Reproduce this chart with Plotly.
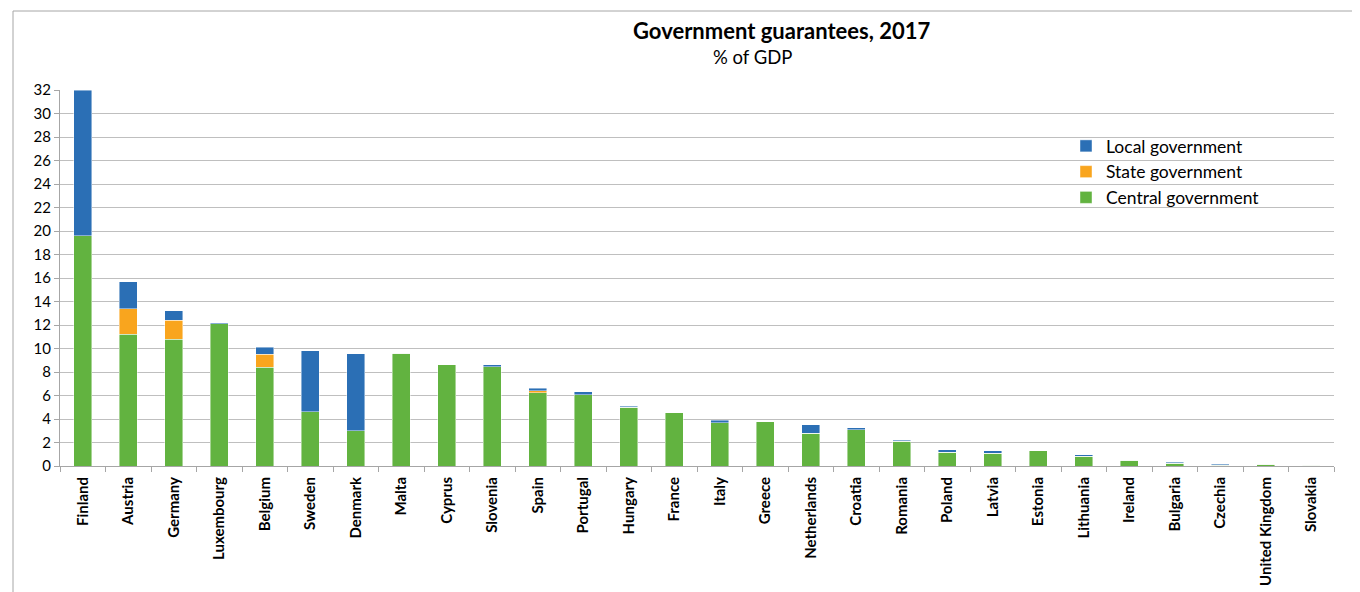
import plotly.graph_objects as go

countries = ["Finland", "Austria", "Germany", "Luxembourg", "Belgium", "Sweden", "Denmark",
             "Malta", "Cyprus", "Slovenia", "Spain", "Portugal", "Hungary", "France", "Italy",
             "Greece", "Netherlands", "Croatia", "Romania", "Poland", "Latvia", "Estonia",
             "Lithuania", "Ireland", "Bulgaria", "Czechia", "United Kingdom", "Slovakia"]

central = [19.6, 11.2, 10.8, 12.1, 8.4, 4.6, 3.0,
           9.6, 8.6, 8.45, 6.25, 6.05, 5.0, 4.55, 3.7,
           3.75, 2.8, 3.1, 2.1, 1.15, 1.1, 1.3,
           0.85, 0.47, 0.25, 0.07, 0.15, 0.05]
state = [0.0, 2.2, 1.6, 0.0, 1.1, 0.0, 0.0,
         0.0, 0.0, 0.0, 0.15, 0.0, 0.0, 0.0, 0.0,
         0.0, 0.0, 0.0, 0.0, 0.0, 0.0, 0.0,
         0.0, 0.0, 0.0, 0.0, 0.0, 0.0]
local = [12.4, 2.3, 0.8, 0.1, 0.6, 5.2, 6.55,
         0.0, 0.0, 0.15, 0.2, 0.25, 0.1, 0.0, 0.2,
         0.0, 0.7, 0.15, 0.1, 0.25, 0.2, 0.0,
         0.1, 0.0, 0.08, 0.1, 0.0, 0.0]

y_ticks = list(range(0, 33, 2))

C_GREEN = "#62B340"
C_ORANGE = "#F9A51E"
C_BLUE = "#2B6FB5"
FONT = "Lato, 'Liberation Sans', Arial, sans-serif"

# page has an 8px body margin; the figure is sized to fill the rest of the window
W, H = 1352, 584
L, R, T, B = 52, 26, 82, 126
PW, PH = W - L - R, H - T - B


def px_x(x_page):
    return (x_page - 8 - L) / PW


def px_y(y_page):
    return (H - B - (y_page - 8)) / PH


fig = go.Figure()
for name, vals, col in [("Central government", central, C_GREEN),
                        ("State government", state, C_ORANGE),
                        ("Local government", local, C_BLUE)]:
    fig.add_trace(go.Bar(
        x=countries, y=vals, name=name,
        marker=dict(color=col, line=dict(color="rgba(255,255,255,0.55)", width=0.8)),
        width=0.4,
    ))

fig.update_layout(
    barmode="stack",
    width=W, height=H,
    margin=dict(l=L, r=R, t=T, b=B, autoexpand=False),
    plot_bgcolor="white", paper_bgcolor="white",
    font=dict(family=FONT, color="#000000"),
    showlegend=True,
    legend=dict(
        traceorder="reversed",
        x=px_x(1066), y=px_y(128), xanchor="left", yanchor="top",
        bgcolor="rgba(0,0,0,0)",
        font=dict(size=17.5, family=FONT, color="#000000"),
        itemwidth=30,
    ),
    annotations=[
        dict(text="<b>Government guarantees, 2017</b>", xref="paper", yref="paper",
             x=px_x(781), y=px_y(30), xanchor="center", yanchor="middle",
             showarrow=False, font=dict(size=22, family=FONT, color="#000000")),
        dict(text="% of GDP", xref="paper", yref="paper",
             x=px_x(752), y=px_y(57), xanchor="center", yanchor="middle",
             showarrow=False, font=dict(size=18.5, family=FONT, color="#000000")),
    ],
    shapes=[
        dict(type="rect", xref="paper", yref="paper",
             x0=px_x(13), x1=1.2, y0=-0.6, y1=px_y(11),
             line=dict(color="#A6A6A6", width=1), fillcolor="rgba(0,0,0,0)", layer="below"),
    ],
)

fig.update_xaxes(
    type="category",
    tickangle=-90,
    tickfont=dict(size=15, family=FONT, color="#000000", weight="bold"),
    ticklabelstandoff=4,
    showline=True, linecolor="#A6A6A6", linewidth=1,
    ticks="outside", tickson="boundaries", ticklen=5, tickcolor="#A6A6A6",
    showgrid=False,
)
fig.update_yaxes(
    range=[0, 32],
    tickvals=y_ticks,
    tickfont=dict(size=15, family=FONT, color="#000000"),
    showline=True, linecolor="#A6A6A6", linewidth=1,
    ticks="outside", ticklen=5, tickcolor="#A6A6A6",
    showgrid=True, gridcolor="#BFBFBF", gridwidth=1,
    zeroline=False,
)

fig.write_html("out.html")
